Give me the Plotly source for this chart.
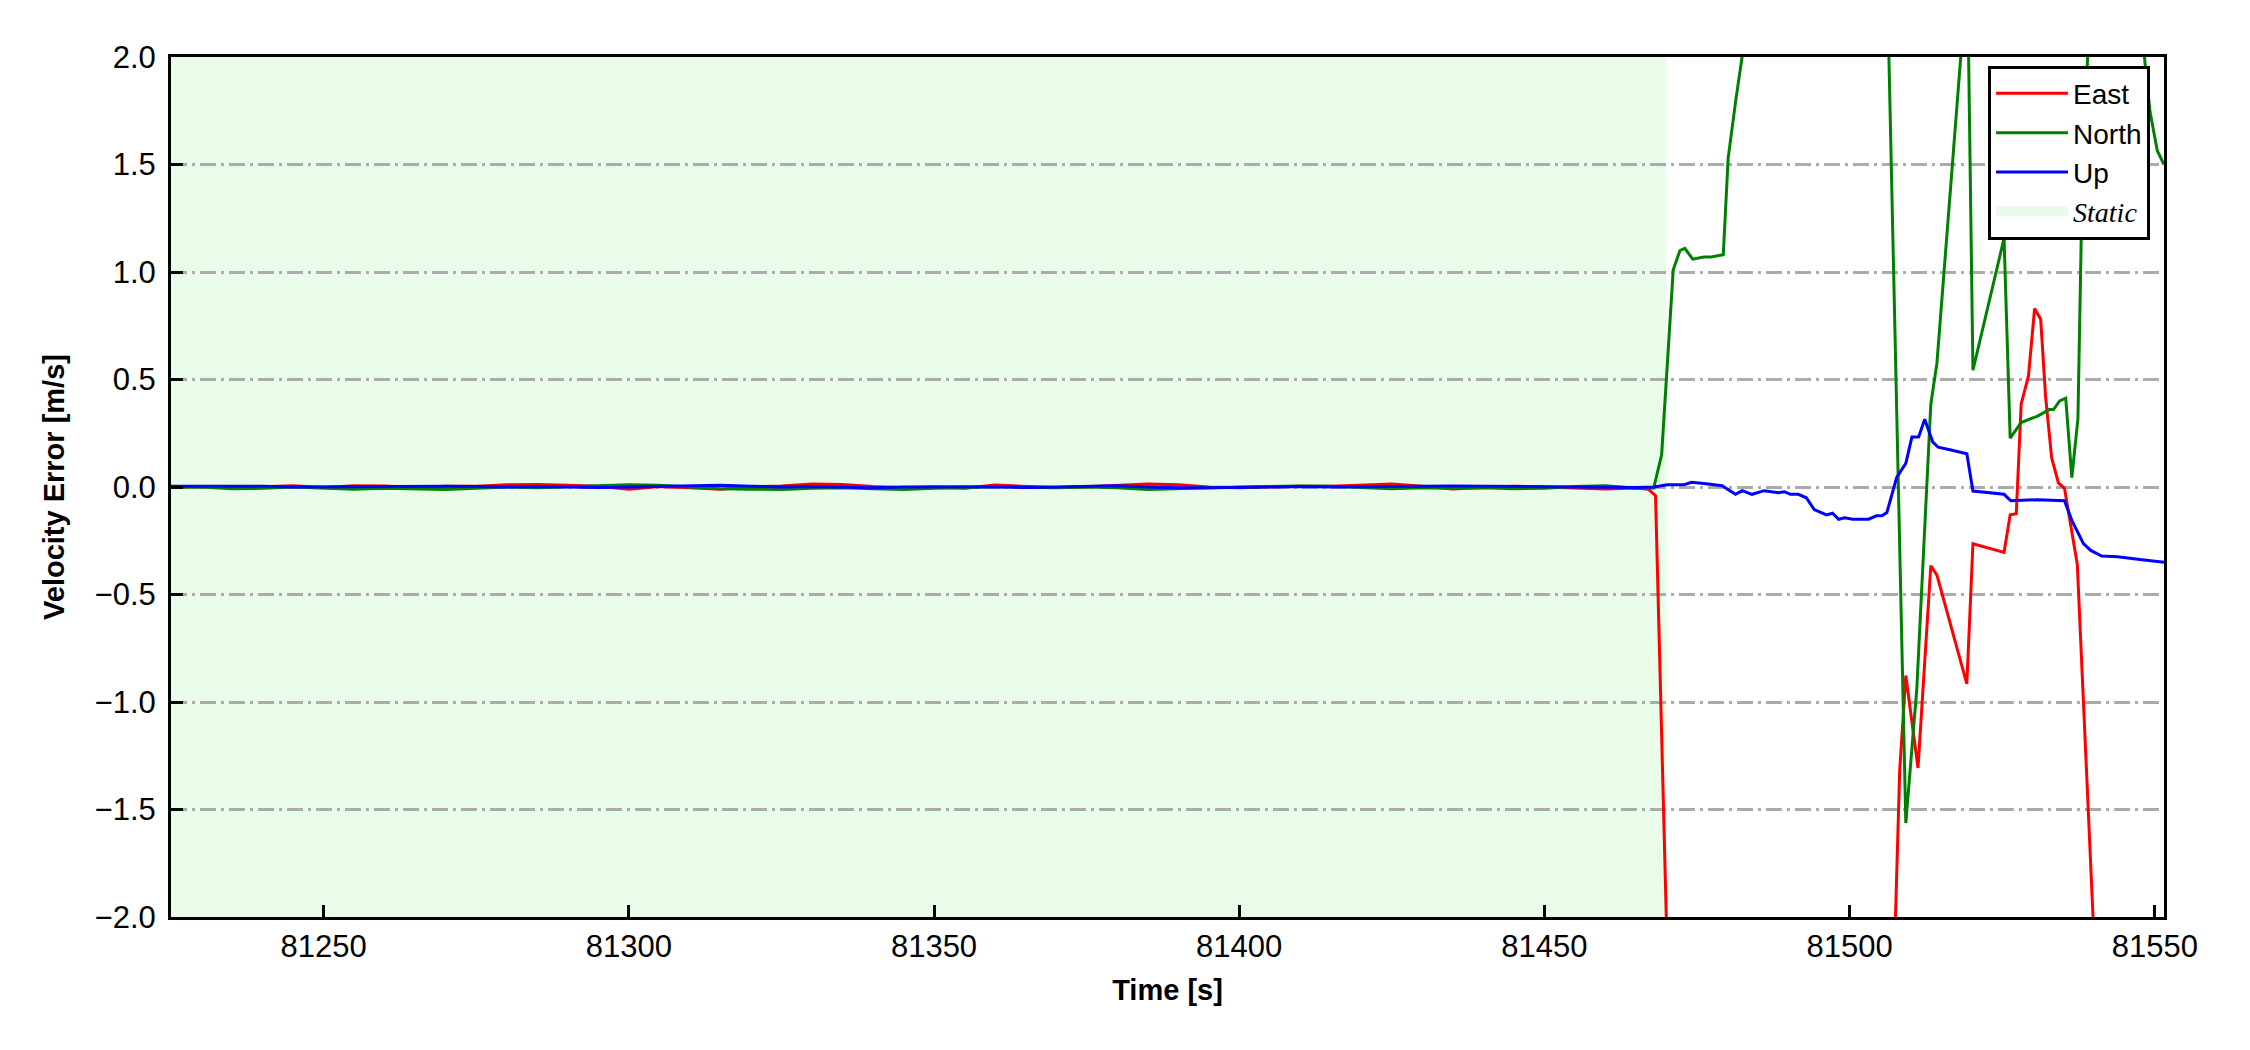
import plotly.graph_objects as go

# ---------------- data ----------------
static_times = [81225, 81230, 81235, 81240, 81245, 81250, 81255, 81260, 81265, 81270,
                81275, 81280, 81285, 81290, 81295, 81300, 81305, 81310, 81315, 81320,
                81325, 81330, 81335, 81340, 81345, 81350, 81355, 81360, 81365, 81370,
                81375, 81380, 81385, 81390, 81395, 81400, 81405, 81410, 81415, 81420,
                81425, 81430, 81435, 81440, 81445, 81450, 81455, 81460, 81465]

east_static = [0.000, 0.002, -0.003, 0.000, 0.006, -0.002, 0.006, 0.005, -0.002, 0.003,
               0.004, 0.010, 0.012, 0.008, 0.003, -0.010, 0.002, -0.004, -0.010, 0.000,
               0.005, 0.014, 0.012, 0.002, -0.004, 0.000, -0.006, 0.009, 0.003, -0.002,
               0.001, 0.006, 0.014, 0.010, 0.000, -0.003, 0.002, 0.004, 0.003, 0.008,
               0.014, 0.004, -0.009, -0.002, 0.003, 0.000, -0.004, -0.009, -0.005]

north_static = [-0.002, 0.000, -0.008, -0.006, 0.000, -0.004, -0.010, -0.006, -0.008, -0.012,
                -0.006, 0.000, -0.003, 0.002, 0.004, 0.010, 0.008, 0.000, -0.008, -0.010,
                -0.012, -0.006, -0.004, -0.008, -0.012, -0.006, -0.004, 0.002, 0.000, -0.004,
                0.000, -0.004, -0.012, -0.008, -0.002, 0.000, 0.002, 0.005, 0.004, -0.002,
                -0.008, -0.004, -0.006, -0.004, -0.008, -0.006, 0.002, 0.006, -0.006]

up_static = [0.003, 0.004, 0.002, 0.004, 0.000, 0.001, 0.002, 0.003, 0.004, 0.003,
             0.002, 0.000, 0.002, 0.000, -0.002, 0.000, 0.002, 0.006, 0.008, 0.004,
             0.000, 0.002, 0.000, -0.004, 0.000, 0.002, 0.001, 0.000, -0.002, 0.000,
             0.004, 0.006, 0.000, -0.004, -0.004, -0.002, -0.001, 0.002, 0.000, 0.002,
             0.001, 0.003, 0.005, 0.004, 0.003, 0.000, 0.002, 0.000, -0.002]

east_dyn_t = [81467.0, 81468.2, 81470.5, 81480.0, 81495.0, 81506.9, 81508.2, 81509.2,
              81511.2, 81513.3, 81514.3, 81519.2, 81520.2, 81525.3, 81526.3, 81527.3,
              81528.1, 81529.3, 81530.3, 81531.3, 81532.1, 81533.1, 81534.2, 81535.2,
              81537.3, 81540.5, 81545.0, 81551.5]
east_dyn_v = [-0.010, -0.040, -2.600, -3.100, -3.000, -2.600, -1.320, -0.877,
              -1.307, -0.366, -0.410, -0.916, -0.264, -0.304, -0.129, -0.124,
              0.385, 0.517, 0.830, 0.780, 0.420, 0.135, 0.019, -0.006,
              -0.361, -2.400, -3.000, -3.300]

north_dyn_t = [81467.9, 81469.2, 81471.1, 81472.2, 81473.0, 81474.3, 81476.1, 81477.3,
               81479.3, 81480.1, 81481.4, 81482.6, 81486.0, 81495.0, 81506.2, 81509.2,
               81511.0, 81513.3, 81514.3, 81519.3, 81520.2, 81525.3, 81526.3, 81528.1,
               81530.8, 81532.7, 81533.4, 81534.4, 81535.4, 81536.4, 81537.4, 81538.0,
               81539.0, 81542.0, 81546.5, 81549.2, 81550.4, 81551.5]
north_dyn_v = [-0.005, 0.150, 1.010, 1.100, 1.110, 1.060, 1.070, 1.070,
               1.080, 1.530, 1.810, 2.050, 2.700, 3.100, 2.300, -1.563,
               -0.940, 0.385, 0.576, 2.400, 0.543, 1.157, 0.227, 0.300,
               0.330, 0.360, 0.360, 0.400, 0.413, 0.044, 0.318, 1.250,
               2.010, 2.800, 2.500, 1.747, 1.564, 1.500]

up_dyn_t = [81468.0, 81470.1, 81472.8, 81474.1, 81476.5, 81479.1, 81481.3, 81482.4,
            81484.0, 81486.0, 81488.3, 81489.3, 81490.3, 81491.6, 81492.9, 81494.2,
            81496.2, 81497.2, 81498.2, 81499.2, 81500.5, 81503.1, 81504.4, 81505.3,
            81506.1, 81507.7, 81509.2, 81510.2, 81511.3, 81512.3, 81513.6, 81514.5,
            81516.6, 81519.2, 81520.2, 81522.9, 81525.3, 81526.4, 81530.8, 81535.2,
            81536.4, 81538.3, 81539.5, 81541.3, 81543.9, 81547.9, 81551.5]
up_dyn_v = [0.000, 0.010, 0.010, 0.022, 0.015, 0.006, -0.034, -0.017,
            -0.034, -0.017, -0.027, -0.022, -0.034, -0.034, -0.050, -0.105,
            -0.130, -0.122, -0.150, -0.143, -0.150, -0.150, -0.134, -0.134,
            -0.119, 0.044, 0.110, 0.232, 0.232, 0.315, 0.210, 0.185,
            0.172, 0.155, -0.019, -0.026, -0.034, -0.064, -0.059, -0.064,
            -0.155, -0.263, -0.295, -0.321, -0.324, -0.338, -0.350]

static_interval = [81225, 81470]
x_range = [81225, 81551.5]
y_range = [-2.0, 2.0]
x_ticks = [81250, 81300, 81350, 81400, 81450, 81500, 81550]
y_ticks = [-2.0, -1.5, -1.0, -0.5, 0.0, 0.5, 1.0, 1.5, 2.0]

series = [
    ("East", static_times + east_dyn_t, east_static + east_dyn_v, "#ff0000"),
    ("North", static_times + north_dyn_t, north_static + north_dyn_v, "#008000"),
    ("Up", static_times + up_dyn_t, up_static + up_dyn_v, "#0000ff"),
]

FONT = "Liberation Sans, Arial, sans-serif"
STATIC_FILL = "rgba(144,238,144,0.2)"

fig = go.Figure()

# static period shading (drawn below the data)
fig.add_shape(type="rect", xref="x", yref="y domain",
              x0=static_interval[0], x1=static_interval[1], y0=0, y1=1,
              fillcolor=STATIC_FILL, line=dict(width=0), layer="below")

for i, (name, t, v, col) in enumerate(series):
    fig.add_trace(go.Scatter(x=t, y=v, mode="lines", name=name,
                             line=dict(color=col, width=3), legendrank=i + 1))

# legend entry for the static shading
fig.add_trace(go.Scatter(x=[None], y=[None], mode="lines", legendrank=4,
                         line=dict(color="#e8fbe8", width=10), hoverinfo="skip",
                         name="<span style=\"font-family:'Liberation Serif', 'Times New Roman', serif\"><i>Static</i></span>"))

# the page body has an 8px default margin; size the figure to fit inside 2250x1050
fig.update_layout(
    width=2234, height=1034,
    margin=dict(l=163, r=78, t=49, b=125),
    paper_bgcolor="white", plot_bgcolor="white",
    font=dict(family=FONT, size=31, color="black"),
    showlegend=True,
    legend=dict(x=0.993, y=0.99, xanchor="right", yanchor="top",
                bgcolor="white", bordercolor="black", borderwidth=3,
                font=dict(size=28, family=FONT, color="black"),
                itemwidth=72, tracegroupgap=0),
)

fig.update_xaxes(range=x_range, tickvals=x_ticks, tickformat="d",
                 showgrid=False, zeroline=False,
                 showline=True, linecolor="black", linewidth=3, mirror=True,
                 ticks="inside", ticklen=12, tickwidth=2.5, tickcolor="black",
                 tickfont=dict(size=31, family=FONT),
                 title=dict(text="<b>Time [s]</b>", font=dict(size=29, family=FONT), standoff=17))

fig.update_yaxes(range=y_range, tickvals=y_ticks, tickformat=".1f",
                 showgrid=True, gridcolor="#ababab", gridwidth=2.5,
                 griddash="16px,5px,3px,5px", zeroline=False,
                 showline=True, linecolor="black", linewidth=3, mirror=True,
                 ticks="inside", ticklen=12, tickwidth=2.5, tickcolor="black",
                 ticklabelstandoff=6,
                 tickfont=dict(size=31, family=FONT),
                 title=dict(text="<b>Velocity Error [m/s]</b>", font=dict(size=29, family=FONT), standoff=22))

fig.write_html("out.html")
